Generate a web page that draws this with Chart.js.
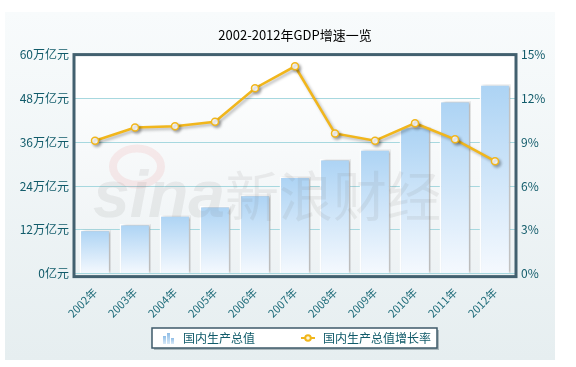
<!DOCTYPE html>
<html>
<head>
<meta charset="utf-8">
<script src="https://cdn.jsdelivr.net/npm/chart.js@4.4.0/dist/chart.umd.min.js"></script>
<style>
    body { margin: 0; background: #ffffff; width: 576px; height: 367px; overflow: hidden; }
    #panel {
        position: absolute; left: 5px; top: 12px; width: 550px; height: 348px;
        background: linear-gradient(#f8fbfc, #e6eef0);
    }
</style>
</head>
<body>
<div id="panel"><canvas id="gdp-chart" width="550" height="348"></canvas></div>
<script>
const years = ['2002年', '2003年', '2004年', '2005年', '2006年', '2007年', '2008年', '2009年', '2010年', '2011年', '2012年'];
// 国内生产总值, 万亿元
const gdpValues = [12.0, 13.6, 16.0, 18.5, 21.6, 26.6, 31.4, 34.1, 40.2, 47.3, 51.9];
// 国内生产总值增长率, %
const growthRates = [9.1, 10.0, 10.1, 10.4, 12.7, 14.2, 9.6, 9.1, 10.3, 9.2, 7.7];
const gdpTicks = [0, 12, 24, 36, 48, 60];
const rateTicks = [0, 3, 6, 9, 12, 15];

const FONT = "'Noto Sans CJK SC', 'Noto Sans', sans-serif";
const TEAL = '#115b6a';
const GOLD = '#f1b61c';

// small legend icons
function barIcon() {
    const c = document.createElement('canvas');
    c.width = 12; c.height = 12;
    const g = c.getContext('2d');
    [[1, 4], [5, 1], [9, 6]].forEach(([x, y]) => {
        const grd = g.createLinearGradient(0, y, 0, 12);
        grd.addColorStop(0, '#8fbde6');
        grd.addColorStop(1, '#d9eaf8');
        g.fillStyle = grd;
        g.fillRect(x, y, 3, 12 - y);
    });
    return c;
}

function lineIcon() {
    const c = document.createElement('canvas');
    c.width = 14; c.height = 8;
    const g = c.getContext('2d');
    g.strokeStyle = GOLD;
    g.lineWidth = 2;
    g.beginPath(); g.moveTo(0, 4); g.lineTo(14, 4); g.stroke();
    g.fillStyle = '#fff8d8';
    g.beginPath(); g.arc(7, 4, 2.8, 0, Math.PI * 2); g.fill(); g.stroke();
    return c;
}

const chartDecor = {
    id: 'chartDecor',
    beforeDraw(chart) {
        const { ctx, chartArea: a } = chart;
        ctx.save();
        const bg = ctx.createLinearGradient(0, a.top, 0, a.bottom);
        bg.addColorStop(0, '#ffffff');
        bg.addColorStop(1, '#edf2f4');
        ctx.fillStyle = bg;
        ctx.fillRect(a.left, a.top, a.right - a.left, a.bottom - a.top);
        // top band is plain white
        const y48 = chart.scales.y.getPixelForValue(48);
        ctx.fillStyle = '#ffffff';
        ctx.fillRect(a.left, a.top, a.right - a.left, y48 - a.top);

        // legend frame
        const boxes = chart.legend.legendHitBoxes;
        if (boxes && boxes.length) {
            const l = Math.min(...boxes.map(b => b.left)) - 7;
            const r = Math.max(...boxes.map(b => b.left + b.width)) + 6;
            const t = Math.min(...boxes.map(b => b.top)) - 4;
            const btm = Math.max(...boxes.map(b => b.top + b.height)) + 4;
            ctx.fillStyle = 'rgba(60,80,90,0.35)';
            ctx.fillRect(l + 2, t + 2, r - l, btm - t);
            ctx.fillStyle = '#ffffff';
            ctx.fillRect(l, t, r - l, btm - t);
            ctx.strokeStyle = '#3e5a69';
            ctx.lineWidth = 1.5;
            ctx.strokeRect(l, t, r - l, btm - t);
        }
        ctx.restore();
    },
    beforeDatasetDraw(chart, args) {
        const ctx = chart.ctx;
        ctx.save();
        ctx.shadowColor = 'rgba(0,0,0,0.28)';
        ctx.shadowBlur = 3;
        ctx.shadowOffsetX = args.index === 0 ? 3 : 2;
        ctx.shadowOffsetY = args.index === 0 ? 0 : 2;
    },
    afterDatasetDraw(chart) {
        chart.ctx.restore();
    },
    afterDatasetsDraw(chart) {
        // faint watermark
        const { ctx, chartArea: a } = chart;
        ctx.save();
        ctx.fillStyle = 'rgba(120,120,120,0.11)';
        ctx.font = "italic bold 66px 'Liberation Sans', sans-serif";
        ctx.textBaseline = 'alphabetic';
        ctx.fillText('sina', a.left + 18, a.top + 162);
        ctx.font = "54px " + FONT;
        ctx.fillText('新浪财经', a.left + 150, a.top + 162);
        ctx.strokeStyle = 'rgba(230,70,70,0.09)';
        ctx.lineWidth = 8;
        ctx.beginPath();
        ctx.ellipse(a.left + 62, a.top + 112, 24, 18, 0, 0, Math.PI * 2);
        ctx.stroke();
        ctx.restore();
    },
    afterDraw(chart) {
        const { ctx, chartArea: a } = chart;
        ctx.save();
        ctx.strokeStyle = '#42606f';
        ctx.lineWidth = 3;
        ctx.strokeRect(a.left - 1, a.top, a.right - a.left + 2, a.bottom - a.top + 3);
        ctx.restore();
    }
};

const ctx = document.getElementById('gdp-chart').getContext('2d');

new Chart(ctx, {
    type: 'bar',
    data: {
        labels: years,
        datasets: [{
            type: 'bar',
            label: '国内生产总值',
            data: gdpValues,
            yAxisID: 'y',
            order: 2,
            barPercentage: 0.77,
            categoryPercentage: 1,
            borderColor: '#ffffff',
            borderWidth: 1.5,
            borderSkipped: 'bottom',
            backgroundColor: function(c) {
                const chart = c.chart;
                if (!chart.chartArea || c.raw == null) return '#b8daf5';
                const top = chart.scales.y.getPixelForValue(c.raw);
                const g = chart.ctx.createLinearGradient(0, top, 0, chart.chartArea.bottom);
                g.addColorStop(0, '#acd3f4');
                g.addColorStop(1, '#f5f9fe');
                return g;
            }
        }, {
            type: 'line',
            label: '国内生产总值增长率',
            data: growthRates,
            yAxisID: 'y1',
            order: 1,
            borderColor: GOLD,
            borderWidth: 2.5,
            tension: 0,
            pointRadius: 3.5,
            pointBorderWidth: 1.5,
            pointBackgroundColor: '#ffffff',
            pointBorderColor: GOLD
        }]
    },
    options: {
        responsive: false,
        devicePixelRatio: 1,
        animation: false,
        layout: { padding: { left: 0, right: 0, top: 0, bottom: 6 } },
        plugins: {
            title: {
                display: true,
                text: '2002-2012年GDP增速一览',
                color: '#000000',
                fullSize: false,
                font: { family: FONT, size: 13, weight: 'normal' },
                padding: { top: 15, bottom: 12 }
            },
            legend: {
                position: 'bottom',
                fullSize: false,
                labels: {
                    font: { family: FONT, size: 12 },
                    color: TEAL,
                    usePointStyle: true,
                    pointStyleWidth: 18,
                    padding: 8,
                    generateLabels: function() {
                        return [
                            { text: '国内生产总值\u3000\u3000\u3000', pointStyle: barIcon(), fillStyle: '#b8daf5', strokeStyle: '#b8daf5', lineWidth: 0, datasetIndex: 0, fontColor: TEAL },
                            { text: '国内生产总值增长率', pointStyle: lineIcon(), fillStyle: GOLD, strokeStyle: GOLD, lineWidth: 0, datasetIndex: 1, fontColor: TEAL }
                        ];
                    }
                }
            },
            tooltip: { enabled: false }
        },
        scales: {
            x: {
                grid: { display: false },
                border: { display: false },
                ticks: {
                    color: '#1f6c7a',
                    font: { family: FONT, size: 11 },
                    maxRotation: 45,
                    minRotation: 45,
                    padding: 4
                }
            },
            y: {
                position: 'left',
                min: 0,
                max: 60,
                afterBuildTicks: s => { s.ticks = gdpTicks.map(v => ({ value: v })); },
                afterFit: s => { s.width = 70; },
                grid: { color: '#a7d8df', lineWidth: 1, drawTicks: false },
                border: { display: false },
                ticks: {
                    color: TEAL,
                    font: { family: FONT, size: 12 },
                    padding: 6,
                    callback: v => v === 0 ? '0亿元' : v + '万亿元'
                }
            },
            y1: {
                position: 'right',
                min: 0,
                max: 15,
                afterBuildTicks: s => { s.ticks = rateTicks.map(v => ({ value: v })); },
                afterFit: s => { s.width = 40; },
                grid: { display: false, drawTicks: false },
                border: { display: false },
                ticks: {
                    color: TEAL,
                    font: { family: FONT, size: 12 },
                    padding: 6,
                    callback: v => v + '%'
                }
            }
        }
    },
    plugins: [chartDecor]
});
</script>
</body>
</html>
